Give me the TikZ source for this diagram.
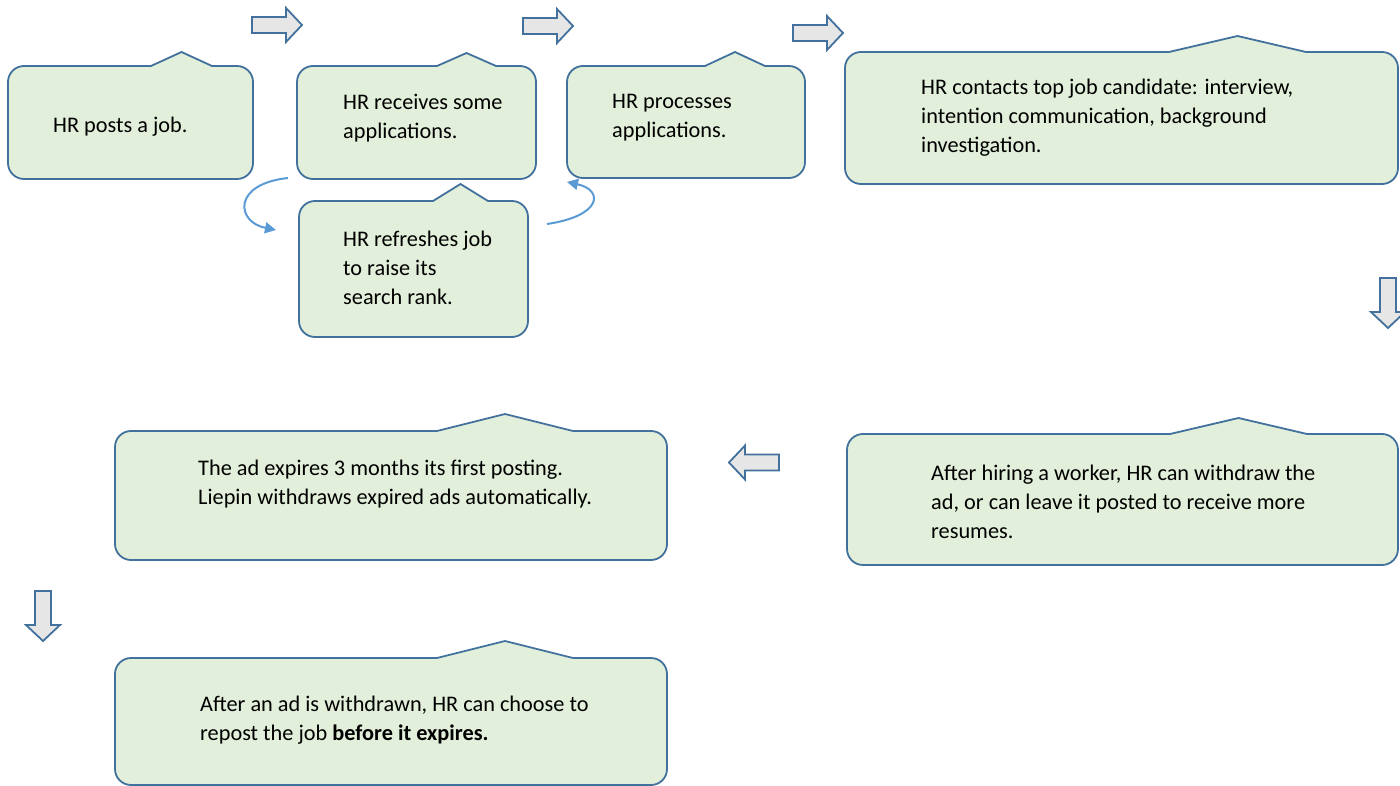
\documentclass[tikz,border=0pt]{standalone}
\usepackage{fontspec}
\setmainfont{Carlito}
\usetikzlibrary{arrows.meta}

\definecolor{boxfill}{RGB}{226,239,218}
\definecolor{boxline}{RGB}{65,113,156}
\definecolor{arrfill}{RGB}{231,230,230}
\definecolor{loopblue}{RGB}{91,155,213}

\tikzset{
  calloutbox/.style={draw=boxline, fill=boxfill, line width=1.8pt, line join=round},
  blockarrow/.style={draw=boxline, fill=arrfill, line width=1.8pt, line join=miter},
  % anchored at the baseline of the last line
  boxtext/.style={anchor=base west, inner sep=0pt, align=left,
                  font=\fontsize{22.3}{29}\selectfont},
  looparrow/.style={draw=loopblue, line width=2pt, -{Triangle[length=11pt,width=11pt]}},
  rightblock/.pic={
    \path[blockarrow] (0,-8) -- (34,-8) -- (34,-17) -- (50,0) -- (34,17)
                      -- (34,8) -- (0,8) -- cycle;
  },
}

% rounded callout with a small wedge on its top edge
% #1 name, #2 left, #3 top, #4 right, #5 bottom, #6 wedge start, #7 wedge end, #8 wedge tip y
\newcommand{\callout}[8]{%
  \draw[calloutbox] (#2,#3+16) arc[start angle=180,end angle=270,radius=16]
    -- (#6,#3) -- ({(#6+#7)/2},#8) -- (#7,#3)
    -- (#4-16,#3) arc[start angle=270,end angle=360,radius=16]
    -- (#4,#5-16) arc[start angle=0,end angle=90,radius=16]
    -- (#2+16,#5) arc[start angle=90,end angle=180,radius=16] -- cycle;
  \coordinate (#1-nw) at (#2,#3);
  \coordinate (#1-se) at (#4,#5);
}

\begin{document}
\begin{tikzpicture}[x=1pt,y=-1pt]
\useasboundingbox (0,0) rectangle (1400,786);

% process boxes
\callout{post}{8}{66}{253}{179}{151}{212}{52}
\callout{recv}{297}{66}{536}{179}{437}{496}{53}
\callout{proc}{567}{66}{805}{178}{705}{765}{52}
\callout{contact}{845}{52}{1398}{184}{1169}{1306}{36}
\callout{refresh}{299}{201}{528}{337}{433}{488}{184}
\callout{hire}{847}{434}{1398}{565}{1170}{1307}{418}
\callout{expire}{115}{431}{667}{560}{437}{573}{414}
\callout{repost}{115}{658}{667}{785}{437}{573}{641}

% box texts
\node[boxtext] (t-post) at (53,133) {HR posts a job.};
\node[boxtext] (t-recv) at (343,139) {HR receives some\\applications.};
\node[boxtext] (t-proc) at (612,138) {HR processes\\applications.};
\node[boxtext] (t-contact) at (921,153) {HR contacts top job candidate: interview,\\intention communication, background\\investigation.};
\node[boxtext] (t-refresh) at (343,305) {HR refreshes job\\to raise its\\search rank.};
\node[boxtext] (t-hire) at (931,538) {After hiring a worker, HR can withdraw the\\ad, or can leave it posted to receive more\\resumes.};
\node[boxtext] (t-expire) at (198,504) {The ad expires 3 months its first posting.\\Liepin withdraws expired ads automatically.};
\node[boxtext] (t-repost) at (200,740) {After an ad is withdrawn, HR can choose to\\repost the job \textbf{before it expires.}};

% block arrows showing the flow
\pic at (252,25) {rightblock};
\pic at (523,26) {rightblock};
\pic at (793,33) {rightblock};
\pic[rotate=-90] at (1388,278) {rightblock};
\pic[rotate=180] at (779,462.5) {rightblock};
\pic[rotate=-90] at (43,591) {rightblock};

% refresh loop
\coordinate (loop-out) at (288,178);
\coordinate (loop-in) at (276,230);
\coordinate (back-out) at (547,224);
\coordinate (back-in) at (567,182);
\draw[looparrow] (loop-out) .. controls (232,184) and (236,222) .. (loop-in);
\draw[looparrow] (back-out) .. controls (602,216) and (604,190) .. (back-in);
\end{tikzpicture}
\end{document}
